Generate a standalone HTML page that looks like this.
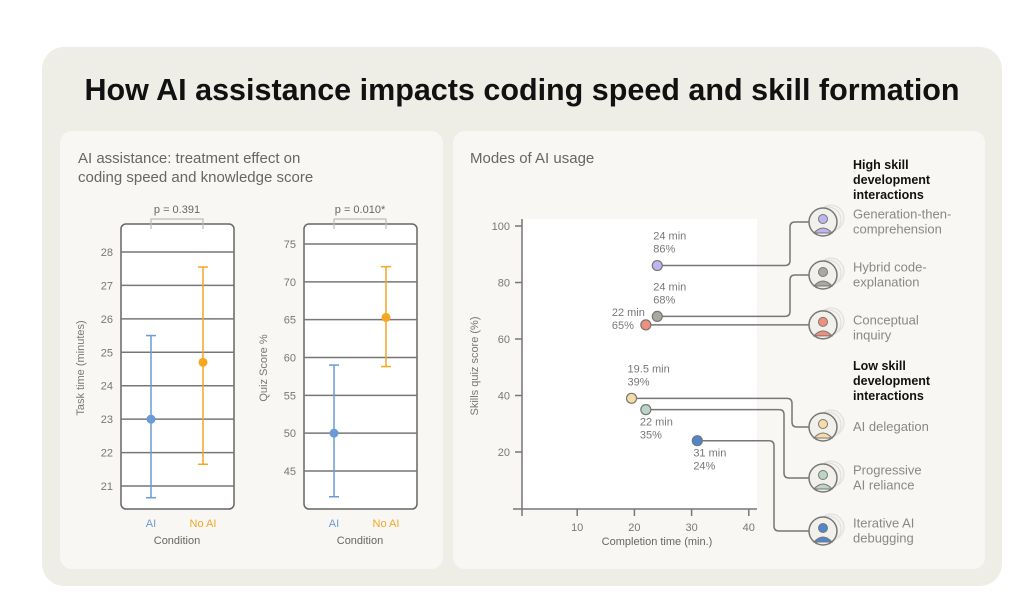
<!DOCTYPE html>
<html><head><meta charset="utf-8"><style>
body{margin:0;width:1025px;height:604px;background:#fff;font-family:"Liberation Sans",sans-serif;overflow:hidden}
svg{display:block}
</style></head><body>
<svg id="s" width="1025" height="604">
<rect x="42" y="47" width="960" height="539" rx="22" fill="#efeee6"/>
<text x="522" y="100" text-anchor="middle" font-size="30.5" font-weight="bold" fill="#111">How AI assistance impacts coding speed and skill formation</text>
<rect x="60" y="131" width="383" height="438" rx="12" fill="#f8f7f3"/>
<rect x="453" y="131" width="532" height="438" rx="12" fill="#f8f7f3"/>
<text x="78" y="163" font-size="15" fill="#666">AI assistance: treatment effect on</text>
<text x="78" y="182" font-size="15" fill="#666">coding speed and knowledge score</text>
<text x="470" y="163" font-size="15" fill="#666">Modes of AI usage</text>
<g id="g"></g>
</svg>
<script>
const conds=["AI","No AI"];
const timeMean=[23,24.7],timeLo=[20.65,21.65],timeHi=[25.5,27.55];
const timeTicks=[21,22,23,24,25,26,27,28];
const quizMean=[50,65.3],quizLo=[41.6,58.8],quizHi=[59,72];
const quizTicks=[45,50,55,60,65,70,75];
const modes=["Generation-then-|comprehension","Hybrid code-|explanation","Conceptual|inquiry","AI delegation","Progressive|AI reliance","Iterative AI|debugging"];
const modeTime=[24,24,22,19.5,22,31];
const modeScore=[86,68,65,39,35,24];
const modeColors=["#bdb6ee","#a9a99e","#f0907a","#f8dca8","#bcd3c7","#4f86cc"];
const xTicks=[10,20,30,40];const yTicks=[20,40,60,80,100];
const NS="http://www.w3.org/2000/svg",G=document.getElementById('g');
function el(t,a,txt){const e=document.createElementNS(NS,t);for(const k in a)e.setAttribute(k,a[k]);if(txt!==undefined)e.textContent=txt;G.appendChild(e);return e;}
const cols=["#6a9bd6","#f5a623"];
function panel(x0,ytop,ybot,vbot,vtop,ticks,mean,lo,hi,title,p,nm){
 const y=v=>ybot-(v-vbot)*(ybot-ytop)/(vtop-vbot);
 let e=el('rect',{x:x0,y:224,width:113,height:285,rx:5,fill:'#fff',stroke:'#666','stroke-width':1.5});
 
 ticks.forEach(t=>{e=el('line',{x1:x0,x2:x0+113,y1:y(t),y2:y(t),stroke:'#777','stroke-width':1.5});
  
  e=el('text',{x:x0-8,y:y(t)+4,'text-anchor':'end','font-size':11,fill:'#777'},t);
  });
 const xs=[x0+30,x0+82];
 conds.forEach((c,i)=>{
  e=el('line',{x1:xs[i],x2:xs[i],y1:y(lo[i]),y2:y(hi[i]),stroke:cols[i],'stroke-width':1.5});
  
  [lo[i],hi[i]].forEach(v=>{e=el('line',{x1:xs[i]-5,x2:xs[i]+5,y1:y(v),y2:y(v),stroke:cols[i],'stroke-width':1.5});
   });
  e=el('circle',{cx:xs[i],cy:y(mean[i]),r:4.5,fill:cols[i]});
  
  e=el('text',{x:xs[i],y:527,'text-anchor':'middle','font-size':11,fill:cols[i]},c);
  });
 e=el('text',{x:x0+56,y:544,'text-anchor':'middle','font-size':11,fill:'#666'},'Condition');
 
 e=el('path',{d:`M${xs[0]} 229V219H${xs[1]}V229`,fill:'none',stroke:'#bbb','stroke-width':1.2});
 
 e=el('text',{x:x0+56,y:213,'text-anchor':'middle','font-size':11,fill:'#666'},p);
 
 e=el('text',{x:0,y:0,'text-anchor':'middle','font-size':11,fill:'#777',transform:`translate(${x0-37},368) rotate(-90)`},title);
 
}
panel(121,252,486,21,28,timeTicks,timeMean,timeLo,timeHi,'Task time (minutes)','p = 0.391','time');
panel(304,244,471,45,75,quizTicks,quizMean,quizLo,quizHi,'Quiz Score %','p = 0.010*','quiz');
const X=v=>520+v*5.72,Y=v=>508.5-v*2.825;
let e=el('rect',{x:522,y:219,width:235,height:290,fill:'#fff'});

e=el('path',{d:'M522 219V516M513 509H757',fill:'none',stroke:'#777','stroke-width':1.5});

yTicks.forEach(t=>{e=el('line',{x1:515,x2:522,y1:Y(t),y2:Y(t),stroke:'#777','stroke-width':1.5});
 
 e=el('text',{x:510,y:Y(t)+4,'text-anchor':'end','font-size':11,fill:'#777'},t);
 });
xTicks.forEach(t=>{e=el('line',{x1:X(t),x2:X(t),y1:509,y2:516,stroke:'#777','stroke-width':1.5});
 
 e=el('text',{x:X(t),y:531,'text-anchor':'middle','font-size':11,fill:'#777'},t);
 });
e=el('text',{x:657,y:545,'text-anchor':'middle','font-size':11,fill:'#666'},'Completion time (min.)');

e=el('text',{x:0,y:0,'text-anchor':'middle','font-size':11,fill:'#777',transform:'translate(478,366) rotate(-90)'},'Skills quiz score (%)');

const iconY=[222,275,328,427,478,531],elbowX=[790,790,790,792,784,774];
const lblOff=[[-4,-26],[-4,-26],[-34,-9],[-4,-26],[-6,16],[-4,16]];
modes.forEach((m,i)=>{
 const px=X(modeTime[i]),py=Y(modeScore[i]),ex=elbowX[i];
 let iy=iconY[i];
 let d;
 if(Math.abs(py-iy)<6){d=`M${px} ${py}H809`;iy=py;}
 else{const s=iy<py?-1:1;d=`M${px} ${py}H${ex-5}Q${ex} ${py} ${ex} ${py+5*s}V${iy-5*s}Q${ex} ${iy} ${ex+5} ${iy}H809`;}
 e=el('path',{d,fill:'none',stroke:'#777','stroke-width':1.5});
 
 e=el('circle',{cx:px,cy:py,r:5,fill:modeColors[i],stroke:'#777','stroke-width':1.2});
 
 const lx=px+lblOff[i][0],ly=py+lblOff[i][1];
 e=el('text',{x:lx,y:ly,'font-size':11,fill:'#777'},modeTime[i]+' min');
 
 e=el('text',{x:lx,y:ly+13,'font-size':11,fill:'#777'},modeScore[i]+'%');
 
 [[8,-4],[5,-2]].forEach(o=>{e=el('circle',{cx:823+o[0],cy:iy+o[1],r:13,fill:'#f4f3ee',stroke:'#ddd','stroke-width':1});
  });
 e=el('circle',{cx:823,cy:iy,r:14,fill:'#f1f0ea',stroke:'#777','stroke-width':1.5});
 
 e=el('circle',{cx:823,cy:iy-3,r:4.5,fill:modeColors[i],stroke:'#777','stroke-width':1});
 
 e=el('path',{d:`M814 ${iy+11}Q823 ${iy+1} 832 ${iy+11}Z`,fill:modeColors[i],stroke:'#777','stroke-width':1});
 
 const parts=m.split('|');
 parts.forEach((p,j)=>{e=el('text',{x:853,y:iconY[i]-(parts.length-1)*7.5+4+j*15,'font-size':13,fill:'#888'},p);
  });
});
[["High skill","development","interactions",169],["Low skill","development","interactions",370]].forEach(h=>{
 for(let j=0;j<3;j++){e=el('text',{x:853,y:h[3]+j*15,'font-size':12.5,'font-weight':'bold',fill:'#111'},h[j]);
 }
});
</script>
</body></html>
